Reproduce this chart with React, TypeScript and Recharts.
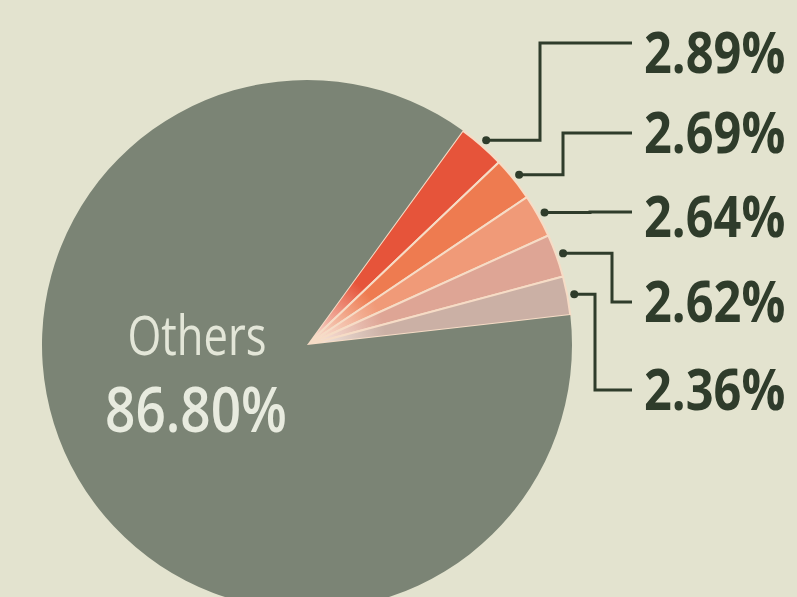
import { PieChart, Pie, Cell } from "recharts"

const segments = ["Seg 1", "Seg 2", "Seg 3", "Seg 4", "Seg 5", "Others"]
const shares = [2.89, 2.69, 2.64, 2.62, 2.36, 86.8]
const sliceColors = ["#e6543a", "#ee7b50", "#f09a78", "#dea595", "#cbb0a5", "#7b8475"]

const data = segments.map((name, i) => ({ name, value: shares[i] }))

// callout layout (right-hand labels)
const calloutLineY = [43, 133, 212, 302, 390]
const calloutElbowX = [540, 563, 590, 612, 595]
const calloutBaseline = [73, 153, 237, 322, 410]

const RADIAN = Math.PI / 180
const ink = "#2f3c2b"

function renderLabel(props: any) {
  const { cx, cy, midAngle, outerRadius, index, value } = props
  if (index === segments.length - 1) {
    return (
      <g>
        <text x={cx - 110} y={355} textAnchor="middle" fill="#e3e6d8" fontFamily="Open Sans, sans-serif"
          fontSize={54} textLength={139} lengthAdjust="spacingAndGlyphs">
          {segments[index]}
        </text>
        <text x={cx - 111} y={432} textAnchor="middle" fill="#e8ebdf" fontFamily="Open Sans, sans-serif"
          fontWeight={600} fontSize={63} textLength={182} lengthAdjust="spacingAndGlyphs">
          {`${value.toFixed(2)}%`}
        </text>
      </g>
    )
  }
  const r = outerRadius + 7
  const x = cx + r * Math.cos(-midAngle * RADIAN)
  const y = cy + r * Math.sin(-midAngle * RADIAN)
  const ex = calloutElbowX[index]
  const ly = calloutLineY[index]
  return (
    <g>
      <circle cx={x} cy={y} r={4} fill={ink} />
      <polyline points={`${x},${y} ${ex},${y} ${ex},${ly} 632,${ly}`} fill="none" stroke={ink} strokeWidth={3} />
      <g transform={`translate(644, ${calloutBaseline[index]}) scale(0.84, 1)`}>
        <text x={0} y={0} fill={ink} fontFamily="Open Sans, sans-serif" fontWeight={700} fontSize={58}>
          {`${value.toFixed(2)}%`}
        </text>
      </g>
    </g>
  )
}

export default function App() {
  return (
    <div style={{ position: "absolute", top: 0, left: 0, width: 797, height: 597, background: "#e3e3cf", overflow: "hidden" }}>
      <PieChart width={797} height={597} margin={{ top: 0, right: 0, bottom: 0, left: 0 }}>
        <defs>
          {sliceColors.map((c, i) => (
            <radialGradient key={i} id={`sl${i}`} gradientUnits="userSpaceOnUse" cx={307} cy={345} r={265}>
              <stop offset="0" stopColor="#f8ece4" />
              <stop offset="0.3" stopColor={c} />
              <stop offset="1" stopColor={c} />
            </radialGradient>
          ))}
        </defs>
        <Pie
          data={data}
          dataKey="value"
          nameKey="name"
          cx={307}
          cy={345}
          outerRadius={265}
          startAngle={54}
          endAngle={-306}
          label={renderLabel}
          labelLine={false}
          isAnimationActive={false}
        >
          {data.map((d, i) =>
            i === data.length - 1 ? (
              <Cell key={d.name} fill={sliceColors[i]} stroke="none" />
            ) : (
              <Cell key={d.name} fill={`url(#sl${i})`} stroke="#f6dcc6" strokeWidth={2} />
            )
          )}
        </Pie>
      </PieChart>
    </div>
  )
}
